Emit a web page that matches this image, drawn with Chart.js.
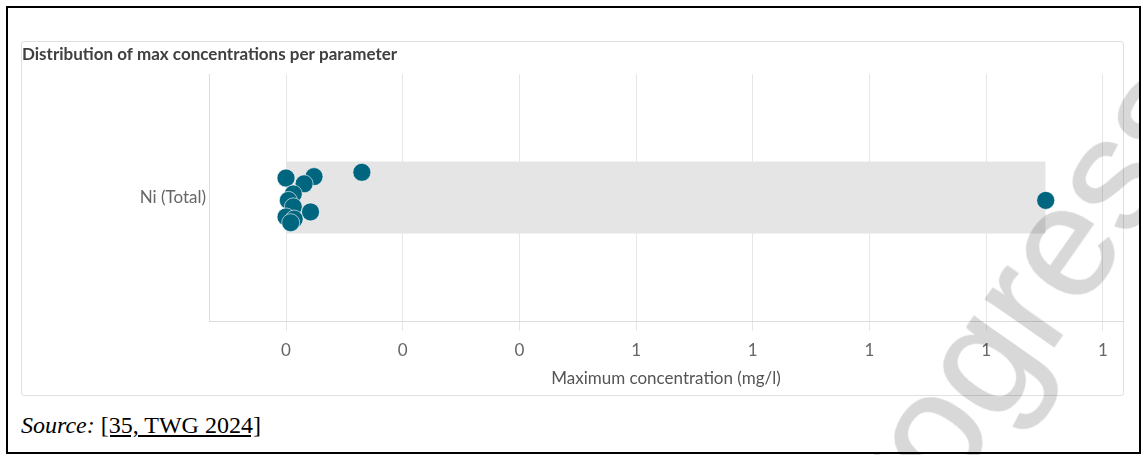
<!DOCTYPE html>
<html>
<head>
<meta charset="utf-8">
<script src="https://cdn.jsdelivr.net/npm/chart.js@4/dist/chart.umd.min.js"></script>
<style>
  html, body { margin: 0; padding: 0; background: #fff; overflow: hidden; }
  body { width: 1141px; height: 455px; position: relative; }
  #frame { position: absolute; left: 6px; top: 6px; width: 1131px; height: 444px; border: 2px solid #000; }
  #card { position: absolute; left: 21px; top: 41px; width: 1101px; height: 353px; border: 1px solid #e0e0e0; border-radius: 3px; }
  #card canvas { position: absolute; left: 0; top: 0; }
  #source { position: absolute; left: 21px; top: 411px; font-family: "Liberation Serif", serif; font-size: 24px; line-height: 28px; color: #000; }
  #source a { color: #000; text-decoration: underline; }
  #watermark { position: absolute; left: 426px; top: 1010px; transform-origin: 0 0; transform: rotate(-55deg);
    font-family: "Liberation Sans", Arial, sans-serif; font-size: 158px; line-height: 1; color: #d8d8d8;
    -webkit-text-stroke: 1.5px #d8d8d8; mix-blend-mode: multiply; white-space: nowrap; z-index: 5; }
</style>
</head>
<body>
<div id="frame"></div>
<div id="card"><canvas id="chart" width="1101" height="353"></canvas></div>
<div id="source"><i>Source:</i> <a>[35, TWG 2024]</a></div>
<div id="watermark">Work in progress</div>
<script>
// Data
const parameters = ['Ni (Total)'];
const maxConcentrations = [0.000, 0.048, 0.031, 0.130, 0.0125, 0.004, 0.0125, 0.042, 0.000, 0.014, 0.008, 1.302];
const jitter = [0.27, 0.29, 0.19, 0.35, 0.05, -0.04, -0.13, -0.20, -0.27, -0.30, -0.35, -0.04];
const tickValues = [0, 0.2, 0.4, 0.6, 0.8, 1.0, 1.2, 1.4];
const tickLabels = ['0', '0', '0', '1', '1', '1', '1', '1'];

const boxMin = Math.min(...maxConcentrations);
const boxMax = Math.max(...maxConcentrations);

const fontFamily = 'Lato, "Open Sans", sans-serif';

const ctx = document.getElementById('chart').getContext('2d');
new Chart(ctx, {
    type: 'scatter',
    data: {
        datasets: [
            {
                label: parameters[0],
                data: maxConcentrations.map((v, i) => ({ x: v, y: jitter[i] })),
                backgroundColor: '#00667f',
                borderColor: 'rgba(255,255,255,0.6)',
                borderWidth: 1,
                pointRadius: 9,
                order: 0
            },
            {
                label: 'box top',
                data: [{ x: boxMin, y: 0.5 }, { x: boxMax, y: 0.5 }],
                showLine: true,
                borderWidth: 0,
                pointRadius: 0,
                fill: false,
                order: 1
            },
            {
                label: 'box bottom',
                data: [{ x: boxMin, y: -0.5 }, { x: boxMax, y: -0.5 }],
                showLine: true,
                borderWidth: 0,
                pointRadius: 0,
                fill: '-1',
                backgroundColor: '#e5e5e5',
                order: 1
            }
        ]
    },
    options: {
        responsive: false,
        animation: false,
        layout: { padding: 0, autoPadding: false },
        plugins: {
            legend: { display: false },
            tooltip: { enabled: false },
            title: {
                display: true,
                text: 'Distribution of max concentrations per parameter',
                align: 'start',
                color: '#404040',
                font: { family: fontFamily, size: 17, weight: 'bold' },
                padding: { top: 2, bottom: 9.6 }
            }
        },
        scales: {
            x: {
                type: 'linear',
                min: -0.132,
                max: 1.4345,
                afterBuildTicks: scale => { scale.ticks = tickValues.map(v => ({ value: v })); },
                afterFit: scale => { scale.height = 74; },
                ticks: {
                    callback: (v, i) => tickLabels[i],
                    color: '#666',
                    padding: 9,
                    maxRotation: 0,
                    font: { family: fontFamily, size: 17 }
                },
                grid: { color: '#e6e6e6', tickLength: 10, drawTicks: true },
                border: { display: true, color: '#dcdcdc' },
                title: {
                    display: true,
                    text: 'Maximum concentration (mg/l)',
                    color: '#555',
                    font: { family: fontFamily, size: 17 },
                    padding: { top: 8, bottom: 6 }
                }
            },
            y: {
                type: 'linear',
                min: -1.715,
                max: 1.715,
                afterBuildTicks: scale => { scale.ticks = [{ value: 0 }]; },
                afterFit: scale => { scale.width = 187; },
                ticks: {
                    callback: () => parameters[0],
                    color: '#666',
                    padding: 3,
                    font: { family: fontFamily, size: 17 }
                },
                grid: { display: false, drawTicks: false },
                border: { display: true, color: '#dcdcdc' }
            }
        }
    }
});
</script>
</body>
</html>
